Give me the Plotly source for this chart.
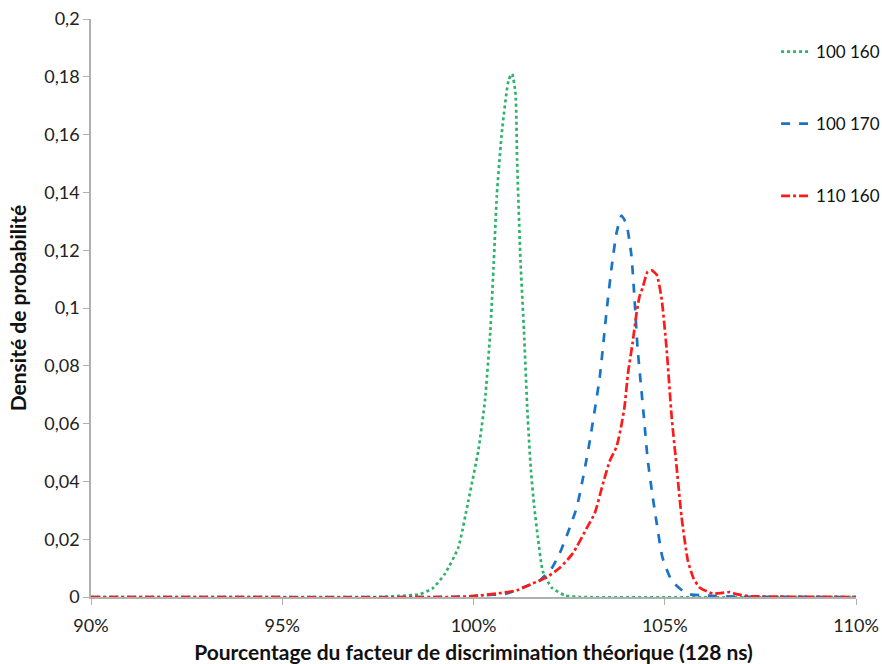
import plotly.graph_objects as go

# ---- data ----
green_name = "100 160"
green_x = [90, 97.5, 98.0, 98.6, 98.93, 99.25, 99.6, 99.86, 100.13, 100.30, 100.44, 100.53, 100.61, 100.75,
           100.92, 101.01, 101.10, 101.14, 101.23, 101.32, 101.41, 101.50, 101.59, 101.68, 101.81, 102.04, 102.4, 102.8, 110]
green_y = [0, 0, 0.0003, 0.001, 0.003, 0.008, 0.017, 0.033, 0.051, 0.068, 0.092, 0.116, 0.139, 0.162,
           0.179, 0.181, 0.174, 0.151, 0.116, 0.092, 0.064, 0.044, 0.031, 0.021, 0.009, 0.0033, 0.0005, 0, 0]

blue_name = "100 170"
blue_x = [90, 99.0, 99.8, 100.16, 100.87, 101.29, 101.73, 102.04, 102.25, 102.46, 102.70, 102.83, 102.96, 103.04,
          103.30, 103.48, 103.61, 103.74, 103.87, 104.00, 104.13, 104.21, 104.29, 104.39, 104.47, 104.55, 104.66,
          104.79, 104.94, 105.18, 105.57, 106.09, 107.0, 110]
blue_y = [0, 0, 0.0002, 0.0005, 0.0012, 0.0033, 0.0057, 0.0099, 0.015, 0.022, 0.031, 0.039, 0.048, 0.054,
          0.076, 0.099, 0.114, 0.126, 0.132, 0.129, 0.118, 0.103, 0.086, 0.0716, 0.060, 0.048, 0.037,
          0.0255, 0.0137, 0.0057, 0.0012, 0.0005, 0.0001, 0]

red_name = "110 160"
red_x = [90, 99.5, 100.0, 100.61, 101.13, 101.55, 101.91, 102.25, 102.59, 102.96, 103.17, 103.38, 103.56, 103.74,
         103.86, 103.95, 104.04, 104.16, 104.26, 104.34, 104.42, 104.55, 104.66, 104.79, 104.92, 105.05, 105.18,
         105.31, 105.44, 105.60, 105.75, 105.91, 106.25, 106.5, 106.69, 106.9, 107.2, 108, 110]
red_y = [0, 0, 0.0003, 0.0012, 0.0023, 0.0047, 0.0068, 0.0100, 0.015, 0.0238, 0.029, 0.039, 0.047, 0.052,
         0.059, 0.066, 0.0775, 0.088, 0.098, 0.104, 0.107, 0.1125, 0.113, 0.1115, 0.103, 0.0856, 0.0624,
         0.045, 0.0277, 0.0128, 0.0065, 0.0033, 0.0012, 0.0014, 0.0017, 0.0009, 0.0003, 0.0001, 0]

y_tickvals = [0, 0.02, 0.04, 0.06, 0.08, 0.1, 0.12, 0.14, 0.16, 0.18, 0.2]
y_ticktext = ["0", "0,02", "0,04", "0,06", "0,08", "0,1", "0,12", "0,14", "0,16", "0,18", "0,2"]
x_tickvals = [90, 95, 100, 105, 110]
x_ticktext = ["90%", "95%", "100%", "105%", "110%"]

x_title = "Pourcentage du facteur de discrimination théorique (128 ns)"
y_title = "Densité de probabilité"

FONT = "Lato"

fig = go.Figure()
fig.add_trace(go.Scatter(x=green_x, y=green_y, name=green_name, mode="lines", legendgroup="g",
                         line=dict(color="#2db36b", width=2.7, dash="dot", shape="spline", smoothing=0.5)))
fig.add_trace(go.Scatter(x=blue_x, y=blue_y, name=blue_name, mode="lines", legendgroup="b",
                         line=dict(color="#1a73c6", width=2.7, dash="dash", shape="spline", smoothing=0.5)))
fig.add_trace(go.Scatter(x=red_x, y=red_y, name=red_name, mode="lines", legendgroup="r",
                         line=dict(color="#ff1a1a", width=2.7, dash="dashdot", shape="spline", smoothing=0.5)))

fig.update_layout(
    width=882, height=664,
    margin=dict(l=91, r=26, t=19, b=67, autoexpand=False),
    plot_bgcolor="white", paper_bgcolor="white",
    font=dict(family=FONT, size=18, color="#222222"),
    showlegend=True,
    legend=dict(x=0.8955, y=0.974, xanchor="left", yanchor="top", tracegroupgap=47,
                bgcolor="rgba(0,0,0,0)", font=dict(size=17, color="#111111")),
    xaxis=dict(range=[90, 110], tickvals=x_tickvals, ticktext=x_ticktext, automargin=False,
               showgrid=False, zeroline=False, showline=True, linecolor="#b0b0b0", linewidth=1.5,
               ticks="outside", ticklen=6, tickcolor="#b0b0b0", tickfont=dict(size=18, color="#222222"),
               ticklabelstandoff=6,
               title=dict(text="<b>" + x_title + "</b>", font=dict(size=21, color="#111111"), standoff=12)),
    yaxis=dict(range=[0, 0.2], tickvals=y_tickvals, ticktext=y_ticktext, automargin=False,
               showgrid=False, zeroline=False, showline=True, linecolor="#b0b0b0", linewidth=1.5,
               ticks="outside", ticklen=6, tickcolor="#b0b0b0", tickfont=dict(size=18, color="#222222"),
               title=dict(text="<b>" + y_title + "</b>", font=dict(size=21, color="#111111"), standoff=12)),
)

fig.write_html(
    "out.html",
    config={"displayModeBar": False},
    post_script="document.body.style.margin='0';document.body.style.overflow='hidden';",
)
